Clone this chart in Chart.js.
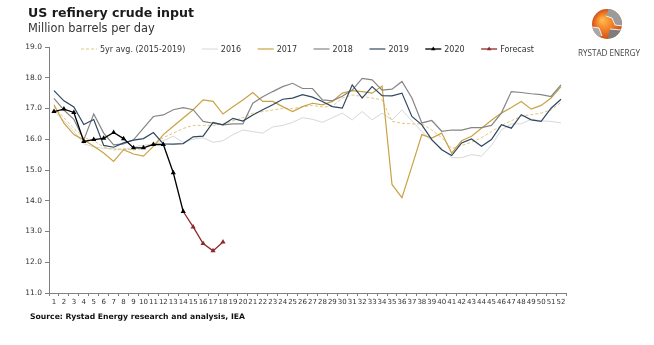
<!DOCTYPE html>
<html>
<head>
<meta charset="utf-8">
<script src="https://cdn.jsdelivr.net/npm/chart.js@4.4.0/dist/chart.umd.min.js"></script>
<style>
  html, body { margin: 0; padding: 0; background: #fff; }
  canvas { display: block; }
</style>
</head>
<body>
<canvas id="chart" width="654" height="345"></canvas>
<script>
// Week numbers on the x axis
const weeks = ['1','2','3','4','5','6','7','8','9','10','11','12','13','14','15','16','17','18','19','20',
  '21','22','23','24','25','26','27','28','29','30','31','32','33','34','35','36','37','38','39','40',
  '41','42','43','44','45','46','47','48','49','50','51','52'];

// Weekly refinery crude input, million barrels per day
const avg5yr = [17.05, 16.7, 16.35, 16.05, 15.95, 15.75, 15.65, 15.7, 15.65, 15.7, 15.85, 16.05, 16.2, 16.35,
  16.45, 16.45, 16.45, 16.5, 16.6, 16.7, 16.85, 16.9, 16.95, 17.0, 17.0, 17.05, 17.1, 17.05, 17.07, 17.34,
  17.44, 17.39, 17.34, 17.28, 16.58, 16.52, 16.5, 16.5, 16.3, 16.05, 15.7, 15.8, 15.9, 16.05, 16.25, 16.45,
  16.6, 16.75, 16.8, 16.85, 16.95, 17.2];
const y2016 = [16.9, 16.6, 16.25, 15.85, 15.75, 15.7, 15.7, 15.65, 15.75, 15.8, 15.85, 15.95, 16.1, 15.9,
  16.0, 16.05, 15.9, 15.95, 16.15, 16.3, 16.25, 16.2, 16.4, 16.45, 16.55, 16.7, 16.65, 16.55, 16.7, 16.85,
  16.63, 16.9, 16.63, 16.85, 16.63, 16.95, 16.6, 16.25, 15.95, 15.7, 15.4, 15.4, 15.5, 15.45, 15.8, 16.3,
  16.5, 16.5, 16.65, 16.6, 16.58, 16.53];
const y2017 = [17.12, 16.52, 16.15, 15.98, 15.77, 15.55, 15.28, 15.66, 15.52, 15.45, 15.77, 16.15, 16.42,
  16.69, 16.96, 17.28, 17.23, 16.82, 17.06, 17.28, 17.52, 17.23, 17.23, 17.06, 16.9, 17.06, 17.17, 17.12,
  17.23, 17.5, 17.58, 17.55, 17.5, 17.73, 14.53, 14.1, 15.12, 16.15, 16.04, 16.2, 15.55, 15.95, 16.1, 16.36,
  16.62, 16.85, 17.03, 17.23, 16.98, 17.1, 17.34, 17.71];
const y2018 = [17.33, 16.95, 16.65, 15.98, 16.82, 16.2, 15.82, 15.85, 15.98, 16.36, 16.74, 16.79, 16.96,
  17.03, 16.96, 16.58, 16.52, 16.47, 16.5, 16.5, 17.17, 17.38, 17.55, 17.71, 17.82, 17.65, 17.65, 17.28,
  17.25, 17.4, 17.6, 17.98, 17.93, 17.6, 17.63, 17.88, 17.34, 16.53, 16.61, 16.26, 16.3, 16.3, 16.38, 16.38,
  16.45, 16.85, 17.55, 17.52, 17.48, 17.45, 17.39, 17.77];
const y2019 = [17.58, 17.25, 17.05, 16.48, 16.64, 15.8, 15.74, 15.88, 15.97, 16.02, 16.22, 15.85, 15.84,
  15.86, 16.08, 16.1, 16.55, 16.47, 16.68, 16.59, 16.79, 16.96, 17.12, 17.3, 17.34, 17.45, 17.37, 17.23,
  17.06, 17.01, 17.77, 17.34, 17.71, 17.42, 17.41, 17.5, 16.74, 16.47, 15.99, 15.66, 15.47, 15.88, 16.01,
  15.77, 15.99, 16.47, 16.36, 16.8, 16.63, 16.58, 17.01, 17.3];
const y2020 = [16.9, 16.98, 16.87, 15.93, 15.99, 16.03, 16.22, 16.02, 15.72, 15.72, 15.83, 15.83, 14.91, 13.65];
const forecastStartWeek = 14;
const forecast = [13.65, 13.15, 12.61, 12.37, 12.66];

const FONT = '"DejaVu Sans", Verdana, sans-serif';

// Place a partial series on the full 52-week axis
function onWeeks(values, firstWeek) {
  const out = weeks.map(() => null);
  values.forEach((v, i) => { out[firstWeek - 1 + i] = v; });
  return out;
}

const forecastRadius = onWeeks(forecast.map((_, i) => (i === 0 ? 0 : 3)), forecastStartWeek).map(r => r || 0);

const datasets = [
  { label: '5yr avg. (2015-2019)', data: avg5yr, borderColor: '#e2c77e', borderWidth: 1, borderDash: [3, 2], order: 5 },
  { label: '2016', data: y2016, borderColor: '#d8d8d8', borderWidth: 1, order: 6 },
  { label: '2017', data: y2017, borderColor: '#c9a243', borderWidth: 1.2, order: 4 },
  { label: '2018', data: y2018, borderColor: '#858585', borderWidth: 1.2, order: 3 },
  { label: '2019', data: y2019, borderColor: '#2f4760', borderWidth: 1.2, order: 2 },
  { label: '2020', data: onWeeks(y2020, 1), borderColor: '#000000', backgroundColor: '#000000', borderWidth: 1.3,
    pointStyle: 'triangle', pointRadius: 3, order: 0 },
  { label: 'Forecast', data: onWeeks(forecast, forecastStartWeek), borderColor: '#8e2a2a', backgroundColor: '#8e2a2a',
    borderWidth: 1.3, pointStyle: 'triangle', pointRadius: forecastRadius, order: 1 }
];
datasets.forEach(d => {
  d.fill = false;
  d.tension = 0;
  if (d.pointRadius === undefined) d.pointRadius = 0;
  d.pointBorderWidth = 0;
  d.pointBackgroundColor = d.borderColor;
});

function triangle(ctx, cx, cy, r) {
  ctx.beginPath();
  ctx.moveTo(cx, cy - r);
  ctx.lineTo(cx - r * 0.87, cy + r * 0.5);
  ctx.lineTo(cx + r * 0.87, cy + r * 0.5);
  ctx.closePath();
  ctx.fill();
}

function drawLogo(ctx) {
  const cx = 607, cy = 24, r = 15;
  ctx.save();
  const g = ctx.createRadialGradient(cx - 5, cy - 4, 1, cx, cy, r);
  g.addColorStop(0, '#fdb94a');
  g.addColorStop(0.55, '#f37a25');
  g.addColorStop(1, '#c8521b');
  ctx.beginPath();
  ctx.arc(cx, cy, r, 0, Math.PI * 2);
  ctx.fillStyle = g;
  ctx.fill();
  ctx.clip();
  // grey land shapes
  ctx.fillStyle = '#9b9b9b';
  ctx.beginPath();
  ctx.moveTo(cx + 2, cy - 16); ctx.lineTo(cx + 16, cy - 10); ctx.lineTo(cx + 16, cy + 2);
  ctx.lineTo(cx + 8, cy + 1); ctx.lineTo(cx + 5, cy - 6); ctx.lineTo(cx - 1, cy - 8); ctx.closePath();
  ctx.fill();
  ctx.fillStyle = '#7d7d7d';
  ctx.beginPath();
  ctx.moveTo(cx + 3, cy + 5); ctx.lineTo(cx + 14, cy + 6); ctx.lineTo(cx + 9, cy + 16);
  ctx.lineTo(cx + 1, cy + 14); ctx.closePath();
  ctx.fill();
  ctx.fillStyle = '#a8a8a8';
  ctx.beginPath();
  ctx.moveTo(cx - 15, cy + 3); ctx.lineTo(cx - 8, cy + 4); ctx.lineTo(cx - 5, cy + 12);
  ctx.lineTo(cx - 12, cy + 14); ctx.closePath();
  ctx.fill();
  // white outlines
  ctx.strokeStyle = 'rgba(255,255,255,0.85)';
  ctx.lineWidth = 1;
  ctx.beginPath();
  ctx.moveTo(cx - 1, cy - 8); ctx.lineTo(cx + 5, cy - 6); ctx.lineTo(cx + 8, cy + 1); ctx.lineTo(cx + 16, cy + 2);
  ctx.moveTo(cx + 3, cy + 5); ctx.lineTo(cx + 14, cy + 6);
  ctx.moveTo(cx - 15, cy + 3); ctx.lineTo(cx - 8, cy + 4); ctx.lineTo(cx - 5, cy + 12);
  ctx.stroke();
  ctx.restore();

  ctx.save();
  ctx.fillStyle = '#444';
  ctx.font = '8.5px "Open Sans", "Liberation Sans", sans-serif';
  ctx.textAlign = 'center';
  ctx.textBaseline = 'middle';
  ctx.fillText('RYSTAD ENERGY', 609, 54, 62);
  ctx.restore();
}

const decorations = {
  id: 'decorations',
  beforeDraw(chart) {
    const ctx = chart.ctx;
    ctx.save();
    ctx.fillStyle = '#fff';
    ctx.fillRect(0, 0, chart.width, chart.height);
    ctx.restore();
  },
  afterDraw(chart) {
    const ctx = chart.ctx;
    ctx.save();
    ctx.textBaseline = 'middle';
    ctx.textAlign = 'left';
    // Title and unit
    ctx.fillStyle = '#1a1a1a';
    ctx.font = 'bold 12.6px ' + FONT;
    ctx.fillText('US refinery crude input', 28, 13.5);
    ctx.fillStyle = '#333';
    ctx.font = '11.4px ' + FONT;
    ctx.fillText('Million barrels per day', 28, 29);

    // Legend across the top of the plot
    ctx.font = '8px ' + FONT;
    const lineLen = 16, gapText = 3, gapItem = 16.5;
    const sets = chart.data.datasets;
    const widths = sets.map(d => lineLen + gapText + ctx.measureText(d.label).width);
    const total = widths.reduce((a, b) => a + b, 0) + gapItem * (sets.length - 1);
    const area = chart.chartArea;
    let x = (area.left + area.right) / 2 - total / 2;
    const y = 49;
    sets.forEach((d, i) => {
      ctx.save();
      ctx.strokeStyle = d.borderColor;
      ctx.lineWidth = d.borderWidth;
      ctx.setLineDash(d.borderDash || []);
      ctx.beginPath();
      ctx.moveTo(x, y);
      ctx.lineTo(x + lineLen, y);
      ctx.stroke();
      if (d.pointStyle === 'triangle') {
        ctx.fillStyle = d.borderColor;
        triangle(ctx, x + lineLen / 2, y, 2.6);
      }
      ctx.restore();
      ctx.fillStyle = '#333';
      ctx.fillText(d.label, x + lineLen + gapText, y + 0.5);
      x += widths[i] + gapItem;
    });

    // Source note
    ctx.fillStyle = '#111';
    ctx.font = 'bold 7.7px ' + FONT;
    ctx.fillText('Source: Rystad Energy research and analysis, IEA', 30, 317);
    ctx.restore();

    drawLogo(ctx);
  }
};

new Chart(document.getElementById('chart'), {
  type: 'line',
  data: { labels: weeks, datasets },
  plugins: [decorations],
  options: {
    responsive: false,
    animation: false,
    devicePixelRatio: 1,
    layout: { padding: { top: 47, right: 88, bottom: 32, left: 0 } },
    plugins: { legend: { display: false }, title: { display: false }, tooltip: { enabled: false } },
    scales: {
      x: {
        type: 'category',
        offset: true,
        grid: { display: true, drawOnChartArea: false, drawTicks: true, tickLength: 3, color: '#808080', offset: true },
        border: { display: true, color: '#808080' },
        ticks: { autoSkip: false, maxRotation: 0, minRotation: 0, padding: 2, color: '#333',
                 font: { family: FONT, size: 7 } },
        afterFit(scale) { scale.height = 20; }
      },
      y: {
        min: 11,
        max: 19,
        grid: { display: true, drawOnChartArea: false, drawTicks: true, tickLength: 4, color: '#808080' },
        border: { display: true, color: '#808080' },
        ticks: { stepSize: 1, padding: 3, color: '#333', font: { family: FONT, size: 7.5 },
                 callback: v => Number(v).toFixed(1) },
        afterFit(scale) { scale.width = 49; }
      }
    }
  }
});
</script>
</body>
</html>
